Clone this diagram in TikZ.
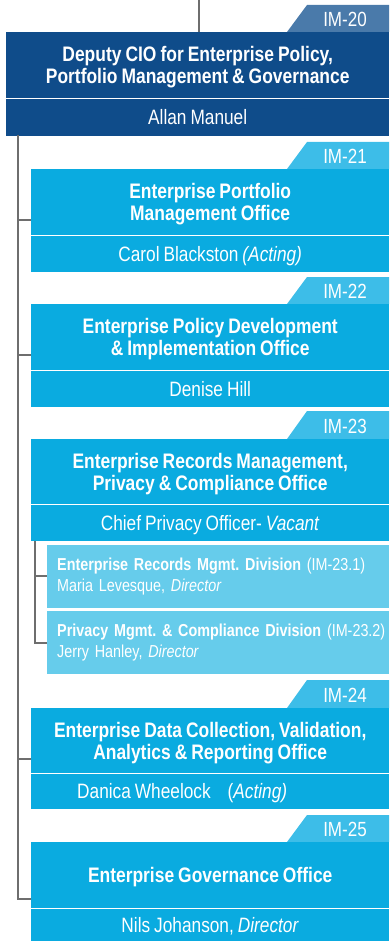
\documentclass[tikz,border=0pt]{standalone}
\usepackage{fontspec}
\setmainfont{Liberation Sans}[FakeStretch=0.83, WordSpace=0.83]
\definecolor{dkblue}{HTML}{0F4C8A}
\definecolor{dktab}{HTML}{4A7AAA}
\definecolor{cyanbox}{HTML}{0AABE0}
\definecolor{cyantab}{HTML}{3DBDE8}
\definecolor{subbox}{HTML}{66CCEB}
\definecolor{linegray}{HTML}{6E6E6E}
\newcommand\ttlfont{\fontsize{21}{22}\bfseries\selectfont}
\newcommand\namefont{\fontsize{20.8}{22}\selectfont}
\newcommand\tabfont{\fontsize{20.5}{22}\selectfont}
\newcommand\sbfont{\fontsize{17.3}{21}\selectfont}
\frenchspacing
\begin{document}
\begin{tikzpicture}[x=1pt,y=-1pt,
  conn/.style={draw=linegray, line width=2.5pt},
  boxbase/.style={inner sep=0pt, anchor=north west, text=white, align=center},
  dkbox/.style={boxbase, fill=dkblue, minimum width=383pt},
  cybox/.style={boxbase, fill=cyanbox, minimum width=358pt},
  namebox/.style={text height=14.5pt, text depth=0pt, font=\namefont},
  titlebox/.style={minimum height=65.5pt, text depth=0pt, font=\ttlfont},
  tabtxt/.style={anchor=base, text=white, inner sep=0pt, font=\tabfont},
  sbbox/.style={anchor=north west, fill=subbox, text=white, inner xsep=10pt, inner ysep=0pt,
     text width=322pt, align=left, minimum height=62.5pt, font=\sbfont}
]
\useasboundingbox (0,0) rectangle (389,941);

% ---------- IM-20
\fill[dktab] (287,32) -- (307,5) -- (389,5) -- (389,32) -- cycle;
\node[tabtxt] (tab20) at (345,26.5) {IM-20};
\node[dkbox, titlebox] (t20) at (6,32) {Deputy CIO for Enterprise Policy,\\Portfolio Management \& Governance};
\node[dkbox, namebox, minimum height=36.5pt] (n20) at (6,99) {Allan Manuel};

% ---------- IM-21
\fill[cyantab] (287,169) -- (307,142) -- (389,142) -- (389,169) -- cycle;
\node[tabtxt] (tab21) at (345,163.5) {IM-21};
\node[cybox, titlebox] (t21) at (31,169) {Enterprise Portfolio\\Management Office};
\node[cybox, namebox, minimum height=35.5pt] (n21) at (31,236) {Carol Blackston \textit{(Acting)}};

% ---------- IM-22
\fill[cyantab] (287,304) -- (307,277) -- (389,277) -- (389,304) -- cycle;
\node[tabtxt] (tab22) at (345,298.5) {IM-22};
\node[cybox, titlebox] (t22) at (31,304) {Enterprise Policy Development\\\& Implementation Office};
\node[cybox, namebox, minimum height=36pt] (n22) at (31,371) {Denise Hill};

% ---------- IM-23
\fill[cyantab] (287,439) -- (307,411) -- (389,411) -- (389,439) -- cycle;
\node[tabtxt] (tab23) at (345,433.5) {IM-23};
\node[cybox, titlebox, minimum height=64.5pt] (t23) at (31,439) {Enterprise Records Management,\\Privacy \& Compliance Office};
\node[cybox, namebox, minimum height=36pt] (n23) at (31,505) {Chief Privacy Officer- \textit{Vacant}};
\node[sbbox] (s231) at (47,545) {\mbox{\textbf{Enterprise Records Mgmt. Division} (IM-23.1)}\\\mbox{Maria Levesque, \textit{Director}}};
\node[sbbox] (s232) at (47,610.8) {\mbox{\textbf{Privacy Mgmt. \& Compliance Division} (IM-23.2)}\\\mbox{Jerry Hanley, \textit{Director}}};

% ---------- IM-24
\fill[cyantab] (287,708) -- (307,680) -- (389,680) -- (389,708) -- cycle;
\node[tabtxt] (tab24) at (345,702.5) {IM-24};
\node[cybox, titlebox, minimum height=64.5pt] (t24) at (31,708) {Enterprise Data Collection, Validation,\\Analytics \& Reporting Office};
\node[cybox, namebox, minimum height=35pt] (n24) at (31,774) {\hspace*{-56pt}Danica Wheelock\hspace{13pt} (\textit{Acting)}};

% ---------- IM-25
\fill[cyantab] (287,842) -- (307,815) -- (389,815) -- (389,842) -- cycle;
\node[tabtxt] (tab25) at (345,836.5) {IM-25};
\node[cybox, titlebox] (t25) at (31,842) {Enterprise Governance Office};
\node[cybox, namebox, minimum height=33pt] (n25) at (31,908.8) {Nils Johanson, \textit{Director}};

% ---------- connectors
\coordinate (topend) at (199,0);
\draw[conn] (topend) -- (topend |- t20.north);
\coordinate (mtop) at (18,135.5);
\coordinate (b21) at (18,220);
\coordinate (b22) at (18,355);
\coordinate (b24) at (18,759);
\coordinate (b25) at (18,899);
\draw[conn] (mtop) -- (b25) -- (b25 -| t25.west);
\draw[conn] (b21) -- (b21 -| t21.west);
\draw[conn] (b22) -- (b22 -| t22.west);
\draw[conn] (b24) -- (b24 -| t24.west);
\coordinate (stop) at (35,541);
\coordinate (sb1) at (35,576);
\coordinate (sb2) at (35,643);
\draw[conn] (stop) -- (sb2) -- (sb2 -| s232.west);
\draw[conn] (sb1) -- (sb1 -| s231.west);
\end{tikzpicture}
\end{document}
